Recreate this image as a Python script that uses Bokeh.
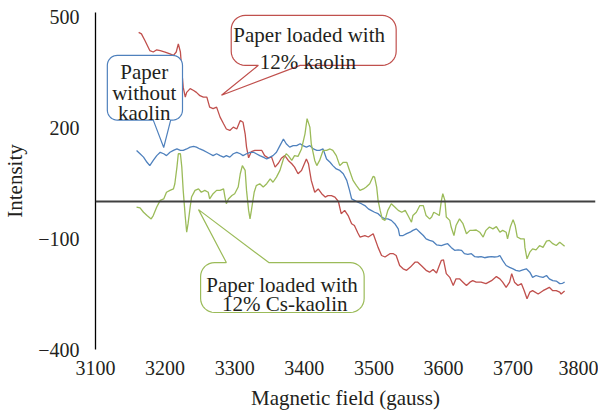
import math
from bokeh.plotting import figure
from bokeh.models import Range1d, FixedTicker, Span, Label
from bokeh.embed import file_html
from bokeh.resources import INLINE

# ---------------- data ----------------
red_x = [3162, 3166, 3171, 3178, 3183, 3188, 3193, 3200, 3207, 3212, 3216, 3219, 3222, 3224, 3226,
         3229, 3231, 3236, 3241, 3245, 3250, 3255, 3260, 3264, 3269, 3274, 3279, 3284, 3288, 3293,
         3298, 3303, 3308, 3312, 3315, 3317, 3320, 3324, 3329, 3334, 3339, 3343, 3348, 3353, 3358,
         3363, 3367, 3372, 3377, 3382, 3386, 3391, 3396, 3401, 3403, 3406, 3410, 3415, 3420, 3425,
         3430, 3434, 3439, 3444, 3449, 3453, 3458, 3463, 3468, 3472, 3477, 3480, 3487, 3492, 3499,
         3506, 3511, 3516, 3523, 3528, 3532, 3537, 3542, 3547, 3552, 3559, 3563, 3568, 3575, 3580,
         3585, 3590, 3594, 3597, 3600, 3604, 3609, 3614, 3618, 3623, 3628, 3633, 3638, 3642, 3647,
         3654, 3661, 3669, 3676, 3681, 3685, 3690, 3695, 3698, 3702, 3707, 3712, 3716, 3720, 3724,
         3728, 3736, 3743, 3748, 3752, 3757, 3762, 3767, 3769, 3774]
red_y = [457, 453, 435, 408, 404, 410, 408, 404, 399, 395, 404, 426, 404, 354, 309,
         282, 295, 305, 300, 295, 286, 282, 282, 255, 251, 255, 228, 210, 196, 192,
         201, 196, 219, 214, 183, 147, 118, 135, 138, 138, 138, 124, 118, 120, 93,
         104, 117, 124, 111, 102, 93, 75, 84, 106, 115, 102, 57, 25, 34, 21,
         12, 16, 16, 12, 0, -33, -24, -38, -60, -65, -85, -96, -92, -96, -87,
         -124, -146, -150, -141, -141, -146, -173, -182, -186, -178, -164, -164, -173, -186, -191,
         -184, -193, -173, -159, -158, -195, -205, -227, -209, -209, -218, -227, -218, -214, -218,
         -218, -222, -214, -203, -209, -218, -232, -218, -195, -218, -227, -222, -241, -263, -245,
         -241, -250, -241, -236, -232, -241, -241, -245, -250, -242]

blue_x = [3159, 3164, 3169, 3174, 3178, 3183, 3188, 3193, 3198, 3202, 3207, 3212, 3217, 3222, 3226,
          3231, 3236, 3241, 3245, 3250, 3255, 3260, 3264, 3269, 3274, 3279, 3284, 3288, 3293, 3298,
          3303, 3308, 3312, 3317, 3322, 3327, 3331, 3336, 3341, 3346, 3351, 3355, 3360, 3365, 3370,
          3374, 3379, 3384, 3389, 3394, 3398, 3403, 3408, 3413, 3418, 3422, 3427, 3432, 3437, 3441,
          3446, 3451, 3456, 3461, 3465, 3468, 3472, 3477, 3482, 3487, 3492, 3496, 3501, 3506, 3511,
          3516, 3520, 3525, 3530, 3535, 3537, 3542, 3547, 3552, 3556, 3561, 3566, 3571, 3575, 3580,
          3585, 3590, 3597, 3602, 3606, 3611, 3616, 3621, 3626, 3630, 3635, 3640, 3645, 3650, 3654,
          3659, 3664, 3669, 3673, 3678, 3681, 3685, 3690, 3695, 3700, 3704, 3709, 3714, 3719, 3724,
          3728, 3733, 3738, 3743, 3748, 3752, 3757, 3762, 3767, 3771, 3774]
blue_y = [138, 129, 120, 106, 97, 111, 124, 133, 129, 124, 133, 138, 142, 138, 138,
          142, 147, 149, 147, 142, 138, 133, 129, 124, 129, 124, 120, 124, 120, 129,
          133, 129, 124, 129, 133, 133, 129, 124, 120, 115, 120, 124, 133, 151, 169,
          156, 147, 151, 151, 156, 151, 147, 151, 142, 138, 138, 142, 115, 106, 97,
          88, 84, 75, 57, 30, 7, 3, -2, -6, -11, -20, -24, -29, -33, -42,
          -47, -47, -51, -60, -74, -92, -92, -87, -83, -78, -74, -83, -92, -101, -105,
          -108, -117, -119, -116, -114, -124, -132, -131, -132, -141, -143, -141, -149, -150, -149,
          -152, -150, -149, -150, -149, -146, -159, -173, -178, -182, -186, -188, -185, -182, -191,
          -205, -200, -203, -205, -200, -209, -214, -215, -222, -221, -218]

green_x = [3159, 3164, 3169, 3174, 3180, 3183, 3188, 3193, 3198, 3202, 3207, 3212, 3214, 3217, 3219,
           3222, 3224, 3226, 3229, 3231, 3233, 3236, 3238, 3243, 3248, 3252, 3257, 3262, 3264, 3269,
           3274, 3279, 3284, 3286, 3288, 3291, 3296, 3300, 3305, 3308, 3311, 3315, 3317, 3320, 3322,
           3324, 3328, 3331, 3336, 3341, 3346, 3351, 3355, 3360, 3365, 3370, 3374, 3377, 3382, 3386,
           3391, 3396, 3401, 3404, 3408, 3410, 3415, 3418, 3422, 3427, 3432, 3437, 3441, 3446, 3451,
           3456, 3461, 3465, 3470, 3475, 3480, 3485, 3489, 3494, 3499, 3501, 3504, 3506, 3509, 3512,
           3516, 3520, 3525, 3530, 3535, 3540, 3545, 3549, 3554, 3556, 3561, 3566, 3571, 3575, 3580,
           3583, 3586, 3590, 3594, 3597, 3599, 3602, 3604, 3609, 3611, 3615, 3618, 3623, 3628, 3633,
           3638, 3642, 3647, 3652, 3657, 3661, 3666, 3671, 3676, 3681, 3685, 3690, 3692, 3696, 3700,
           3703, 3706, 3711, 3716, 3717, 3720, 3724, 3728, 3733, 3738, 3743, 3748, 3752, 3757, 3762,
           3767, 3771, 3774]
green_y = [-15, -17, -29, -38, -47, -38, -15, 3, 7, 25, 30, 34, 48, 93, 129,
           129, 93, 30, -42, -83, -60, -15, 12, 30, 34, 25, 30, 25, 7, 21,
           30, 30, 34, 12, -6, 7, 16, 21, 39, 75, 97, 84, 30, -24, -47,
           -24, 25, 43, 48, 39, 48, 61, 52, 66, 84, 115, 129, 124, 111, 124,
           122, 142, 183, 224, 201, 156, 111, 97, 111, 138, 138, 142, 138, 124, 97,
           106, 106, 84, 57, 43, 30, 34, 39, 48, 68, 66, 39, 3, -24, -47,
           -51, -24, -6, -15, -24, -29, -24, -38, -56, -38, -29, -11, -11, -38, -47,
           -42, -29, -33, -38, 3, 21, 3, -42, -51, -69, -92, -65, -47, -60, -87,
           -78, -78, -77, -83, -96, -78, -69, -74, -68, -83, -78, -83, -101, -69, -49,
           -65, -96, -101, -101, -124, -155, -137, -128, -131, -119, -124, -107, -105, -114, -119,
           -110, -116, -121]

x_ticks = [3100, 3200, 3300, 3400, 3500, 3600, 3700, 3800]
y_ticks = [-400, -100, 200, 500]
y_tick_labels = {-400: "\u2212400", -100: "\u2212100", 200: "200", 500: "500"}

RED = "#C0504D"
BLUE = "#4F81BD"
GREEN = "#9BBB59"
FONT = "Liberation Serif"

# ---------------- figure ----------------
FW, FH = 500, 337
X0, X1 = 3100, 3100 + FW / 0.696
Y0, Y1 = -400, -400 + FH / 0.37
KX = FW / (X1 - X0)
KY = FH / (Y1 - Y0)

p = figure(frame_width=FW, frame_height=FH, x_range=Range1d(X0, X1), y_range=Range1d(Y0, Y1),
           output_backend="svg", toolbar_location=None,
           min_border_left=94, min_border_right=3, min_border_top=12, min_border_bottom=52)
p.outline_line_color = None
p.grid.visible = False
p.background_fill_color = "white"

# axes
xa = p.xaxis[0]
xa.ticker = FixedTicker(ticks=x_ticks)
xa.axis_line_color = None
xa.major_tick_line_color = None
xa.minor_tick_line_color = None
xa.major_label_standoff = 5
xa.major_label_text_font = FONT
xa.major_label_text_font_size = "20px"
xa.major_label_text_color = "#231F20"
xa.axis_label = "Magnetic field (gauss)"
xa.axis_label_text_font = FONT
xa.axis_label_text_font_size = "21px"
xa.axis_label_text_font_style = "normal"
xa.axis_label_text_color = "#231F20"
xa.axis_label_standoff = 8

ya = p.yaxis[0]
ya.ticker = FixedTicker(ticks=y_ticks)
ya.major_label_overrides = y_tick_labels
ya.axis_line_color = "black"
ya.axis_line_width = 1.3
ya.major_tick_line_color = None
ya.minor_tick_line_color = None
ya.major_label_standoff = 10
ya.major_label_text_font = FONT
ya.major_label_text_font_size = "20px"
ya.major_label_text_color = "#231F20"
ya.axis_label = "Intensity"
ya.axis_label_text_font = FONT
ya.axis_label_text_font_size = "21px"
ya.axis_label_text_font_style = "normal"
ya.axis_label_text_color = "#231F20"
ya.axis_label_standoff = 8

p.add_layout(Span(location=0, dimension="width", line_color="#404040", line_width=2))

# series
p.line(red_x, red_y, line_color=RED, line_width=1.3)
p.line(blue_x, blue_y, line_color=BLUE, line_width=1.3)
p.line(green_x, green_y, line_color=GREEN, line_width=1.3)


# ---------------- callouts ----------------
def bubble(x0, x1, y0, y1, tip, base, side, r=10):
    """Rounded box with a pointer, built in pixel space and mapped back to data."""
    bx0, bx1 = (x0 - X0) * KX, (x1 - X0) * KX
    by0, by1 = y0 * KY, y1 * KY
    tx, ty = (tip[0] - X0) * KX, tip[1] * KY
    b0, b1 = (base[0] - X0) * KX, (base[1] - X0) * KX
    pts = []

    def arc(cx, cy, a0, a1):
        for i in range(9):
            a = math.radians(a0 + (a1 - a0) * i / 8)
            pts.append((cx + r * math.cos(a), cy + r * math.sin(a)))

    if side == "bottom":
        pts += [(b0, by0), (tx, ty), (b1, by0)]
        arc(bx1 - r, by0 + r, 270, 360)
        arc(bx1 - r, by1 - r, 0, 90)
        arc(bx0 + r, by1 - r, 90, 180)
        arc(bx0 + r, by0 + r, 180, 270)
    else:
        arc(bx0 + r, by0 + r, 180, 270)
        arc(bx1 - r, by0 + r, 270, 360)
        arc(bx1 - r, by1 - r, 0, 90)
        pts += [(b1, by1), (tx, ty), (b0, by1)]
        arc(bx0 + r, by1 - r, 90, 180)
    xs = [X0 + q[0] / KX for q in pts]
    ys = [q[1] / KY for q in pts]
    return xs, ys


callouts = [
    dict(box=(3117, 3225, 220, 395), tip=(3198, 146), base=(3183, 3208), side="bottom", color=BLUE, r=10,
         lines=[("Paper", 3170, 350), ("without", 3170, 293), ("kaolin", 3170, 238)]),
    dict(box=(3295, 3532, 368, 503), tip=(3281, 287), base=(3334, 3394), side="bottom", color=RED, r=14,
         lines=[("Paper loaded with", 3407, 449), ("12% kaolin", 3405, 376)]),
    dict(box=(3251, 3486, -300, -165), tip=(3248, -22), base=(3288, 3349), side="top", color=GREEN, r=14,
         lines=[("Paper loaded with", 3368, -226), ("12% Cs-kaolin", 3372, -277)]),
]

for c in callouts:
    bx0, bx1, by0, by1 = c["box"]
    xs, ys = bubble(bx0, bx1, by0, by1, c["tip"], c["base"], c["side"], c["r"])
    p.patch(xs, ys, fill_color="white", line_color=c["color"], line_width=1.2)
    for txt, lx, ly in c["lines"]:
        p.add_layout(Label(x=lx, y=ly, text=txt, text_align="center", text_baseline="alphabetic",
                           text_font=FONT, text_font_size="21px", text_color="#231F20"))

open("out.html", "w").write(file_html(p, INLINE))
